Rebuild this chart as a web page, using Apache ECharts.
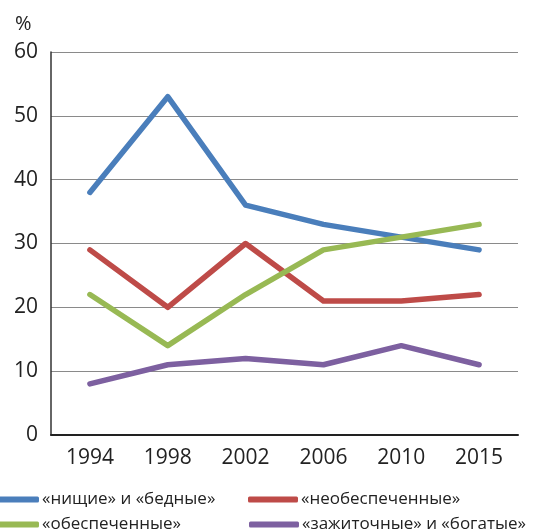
<!DOCTYPE html>
<html>
<head>
<meta charset="utf-8">
<script src="https://cdn.jsdelivr.net/npm/echarts@6/dist/echarts.min.js"></script>
<style>
  html, body { margin: 0; padding: 0; background: #fff; }
  #chart { width: 554px; height: 532px; }
</style>
</head>
<body>
<div id="chart"></div>
<script>
const years = ['1994', '1998', '2002', '2006', '2010', '2015']
const poor = [38, 53, 36, 33, 31, 29]
const needy = [29, 20, 30, 21, 21, 22]
const secured = [22, 14, 22, 29, 31, 33]
const rich = [8, 11, 12, 11, 14, 11]

const names = ['«нищие» и «бедные»', '«необеспеченные»', '«обеспеченные»', '«зажиточные» и «богатые»']
const colors = ['#4a7ebb', '#be4b48', '#98b954', '#7d60a0']
const font = '"Open Sans", "Noto Sans", sans-serif'

const chart = echarts.init(document.getElementById('chart'))

const mkSeries = (name, data, color) => ({
  name: name,
  type: 'line',
  data: data,
  symbol: 'none',
  lineStyle: { color: color, width: 5.5, cap: 'round', join: 'round' },
  itemStyle: { color: color }
})

// one legend per entry so the 2x2 layout stays put
const mkLegend = (name, left, top) => ({
  left: left,
  top: top,
  itemWidth: 50,
  itemHeight: 6,
  icon: 'roundRect',
  data: [name],
  textStyle: { fontFamily: font, fontSize: 17, color: '#222', padding: [0, 0, 0, -2] }
})

chart.setOption({
  animation: false,
  title: {
    text: '%',
    left: 10,
    top: 9,
    textStyle: { fontFamily: font, fontSize: 20, fontWeight: 'normal', color: '#222' }
  },
  legend: [
    mkLegend(names[0], -16, 486),
    mkLegend(names[1], 243, 486),
    mkLegend(names[2], -16, 511),
    mkLegend(names[3], 244, 511)
  ],
  grid: { left: 51, right: 36, top: 52, bottom: 97 },
  xAxis: {
    type: 'category',
    data: years,
    boundaryGap: true,
    axisLine: { lineStyle: { color: '#222', width: 2 } },
    axisTick: { show: false },
    axisLabel: { fontFamily: font, fontSize: 21, color: '#222', margin: 13 }
  },
  yAxis: {
    type: 'value',
    min: 0,
    max: 60,
    interval: 10,
    axisLine: { show: true, lineStyle: { color: '#333', width: 1.5 } },
    axisTick: { show: false },
    axisLabel: { fontFamily: font, fontSize: 21, color: '#222', margin: 13 },
    splitLine: { lineStyle: { color: '#8a8a8a', width: 1 } }
  },
  series: [
    mkSeries(names[0], poor, colors[0]),
    mkSeries(names[1], needy, colors[1]),
    mkSeries(names[2], secured, colors[2]),
    mkSeries(names[3], rich, colors[3])
  ]
})
</script>
</body>
</html>
